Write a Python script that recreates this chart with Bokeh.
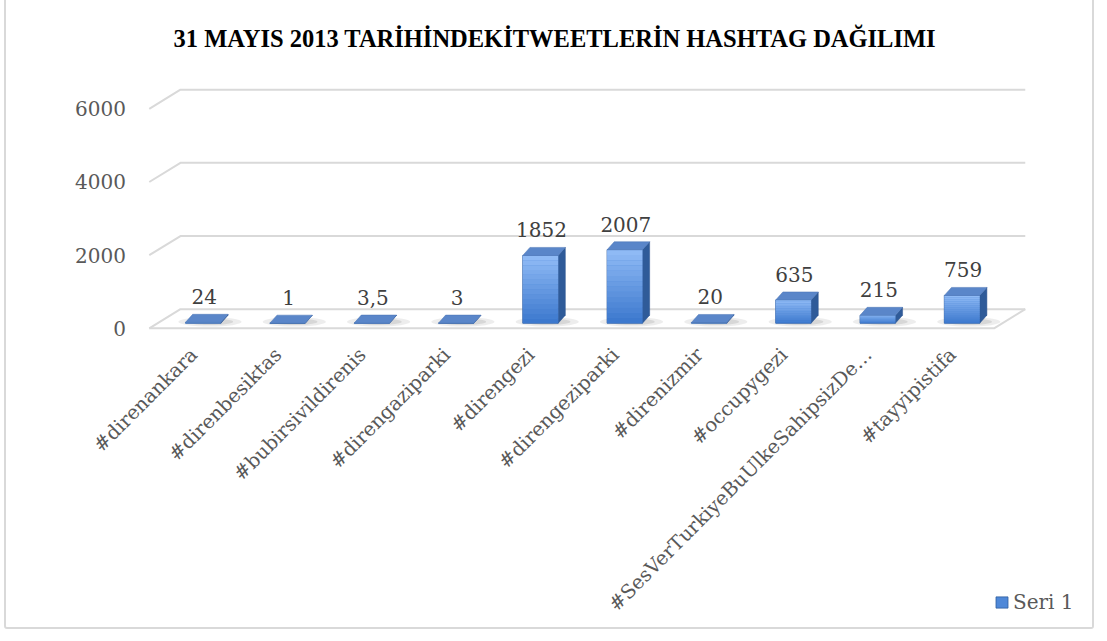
import math
from bokeh.plotting import figure
from bokeh.models import FixedTicker, Range1d, Legend, LegendItem
from bokeh.core.properties import value
from bokeh.embed import file_html
from bokeh.resources import INLINE

# ---- data ----
categories = ["#direnankara", "#direnbesiktas", "#bubirsivildirenis", "#direngaziparki",
              "#direngezi", "#direngeziparki", "#direnizmir", "#occupygezi",
              "#SesVerTurkiyeBuUlkeSahipsizDe\u2026", "#tayyipistifa"]
values = [24, 1, 3.5, 3, 1852, 2007, 20, 635, 215, 759]
value_labels = ["24", "1", "3,5", "3", "1852", "2007", "20", "635", "215", "759"]
y_ticks = [0, 2000, 4000, 6000]
series_name = "Seri 1"
title_text = "31 MAYIS 2013 TAR\u0130H\u0130NDEK\u0130TWEETLER\u0130N HASHTAG DA\u011eILIMI"

# ---- styling / geometry (not data) ----
FONT = "DejaVu Serif"
TXT = "#595959"
GRID = "#d9d9d9"
PXU = 84.0                 # pixels per category
PYU = 0.03633              # pixels per value unit
X0 = (8 - 202) / PXU
X1 = (1086 - 202) / PXU
Y0 = -(620 - 326) / PYU
Y1 = (326 - 70) / PYU
AXIS_X = (140 - 202) / PXU  # where the value axis sits
AXIS_Y = -248               # where the category axis sits (just under the floor)
XL = -0.64                  # left front edge of floor / walls
XR_FRONT = 9.38
DXB, DYB = 0.37, 523        # depth offset of the back plane
HALF = 0.21                 # half bar width
BASE = 140                  # bar base (depth middle)
DX, DY = 0.085, 220         # bar depth

p = figure(width=1090, height=634, output_backend="svg", toolbar_location=None,
           x_range=Range1d(X0, X1), y_range=Range1d(Y0, Y1),
           min_border_left=2, min_border_right=6, min_border_top=73,
           min_border_bottom=7)
p.outline_line_color = None
p.xgrid.visible = False
p.ygrid.visible = False
p.background_fill_color = "white"
p.border_fill_color = "white"
p.styles = {"border": "2px solid #d9d9d9", "border-radius": "3px", "margin-left": "4px",
            "margin-top": "-5px", "box-sizing": "border-box"}

# title
p.title.text = title_text
p.title.text_font = "Liberation Serif"
p.title.text_font_style = "bold"
p.title.text_font_size = "24.5px"
p.title.text_color = "black"
p.title.align = "left"
p.title.offset = 165
p.title.standoff = 38

# gridlines (3D style)
gx, gy = [], []
for v in y_ticks:
    gx.append([XL, XL + DXB, XR_FRONT + DXB])
    gy.append([v, v + DYB, v + DYB])
gx.append([XL, XR_FRONT, XR_FRONT + DXB])
gy.append([0, 0, DYB])
p.multi_line(gx, gy, line_color=GRID, line_width=2)

# shadows
n = len(values)
xs = list(range(n))
p.ellipse(x=[i + 0.08 for i in xs], y=[BASE + 40] * n, width=0.75, height=260,
          fill_color="#9a9a9a", fill_alpha=0.18, line_color=None)
p.ellipse(x=[i + 0.08 for i in xs], y=[BASE + 40] * n, width=0.55, height=180,
          fill_color="#8a8a8a", fill_alpha=0.22, line_color=None)

# side faces
side_x, side_y = [], []
for i, v in zip(xs, values):
    r = i + HALF
    side_x.append([r, r + DX, r + DX, r])
    side_y.append([BASE, BASE + DY, BASE + v + DY, BASE + v])
p.patches(side_x, side_y, fill_color="#2f5b99", line_color="#2a5290", line_width=0.5)

# front face base (also the legend renderer)
front = p.quad(left=[i - HALF for i in xs], right=[i + HALF for i in xs],
               bottom=[BASE] * n, top=[BASE + v for v in values],
               fill_color="#4f88d8", line_color="#2f5d9e", line_width=0.8)

# front face gradient slices
def mix(c1, c2, t):
    a = [int(c1[k:k + 2], 16) for k in (1, 3, 5)]
    b = [int(c2[k:k + 2], 16) for k in (1, 3, 5)]
    return "#%02x%02x%02x" % tuple(round(a[j] + (b[j] - a[j]) * t) for j in range(3))

NS = 14
sl, sr, sb, st, sc = [], [], [], [], []
for i, v in zip(xs, values):
    for k in range(NS):
        sl.append(i - HALF)
        sr.append(i + HALF)
        sb.append(BASE + v * k / NS)
        st.append(BASE + v * (k + 1) / NS)
        sc.append(mix("#3a76cd", "#92bdf6", (k + 0.5) / NS))
p.quad(left=sl, right=sr, bottom=sb, top=st, fill_color=sc, line_color=None)

# top faces
top_x, top_y = [], []
for i, v in zip(xs, values):
    t = BASE + v
    top_x.append([i - HALF, i + HALF, i + HALF + DX, i - HALF + DX])
    top_y.append([t, t, t + DY, t + DY])
p.patches(top_x, top_y, fill_color="#5a86c9", line_color="#4a74b5", line_width=0.5)

# value labels
p.text(x=[i + DX / 2 - 0.03 for i in xs], y=[BASE + v + DY for v in values],
       text=value_labels, text_font=value(FONT), text_font_size="20px",
       text_color="#404040", text_align="center", text_baseline="bottom", y_offset=-10)

# axes
yax = p.yaxis[0]
yax.fixed_location = AXIS_X
yax.ticker = FixedTicker(ticks=y_ticks)
yax.axis_line_color = None
yax.major_tick_line_color = None
yax.minor_tick_line_color = None
yax.major_tick_out = 0
yax.major_label_standoff = 15
yax.major_label_text_font = FONT
yax.major_label_text_font_size = "20px"
yax.major_label_text_color = TXT

XOFF = -0.11
xt = [i + XOFF for i in xs]
xax = p.xaxis[0]
xax.fixed_location = AXIS_Y
xax.ticker = FixedTicker(ticks=xt)
xax.major_label_overrides = {t: c for t, c in zip(xt, categories)}
xax.major_label_orientation = math.pi / 4
xax.axis_line_color = None
xax.major_tick_line_color = None
xax.minor_tick_line_color = None
xax.major_tick_out = 0
xax.major_label_standoff = 14
xax.major_label_text_font = FONT
xax.major_label_text_font_size = "19.5px"
xax.major_label_text_color = TXT

# legend
legend = Legend(items=[LegendItem(label=series_name, renderers=[front])],
                location=(986, 10), orientation="vertical", padding=0, margin=0)
legend.label_text_font = FONT
legend.label_text_font_size = "20px"
legend.label_text_color = TXT
legend.background_fill_alpha = 0
legend.border_line_color = None
legend.glyph_width = 15
legend.glyph_height = 14
legend.label_standoff = 4
p.add_layout(legend)

open("out.html", "w").write(file_html(p, INLINE))
